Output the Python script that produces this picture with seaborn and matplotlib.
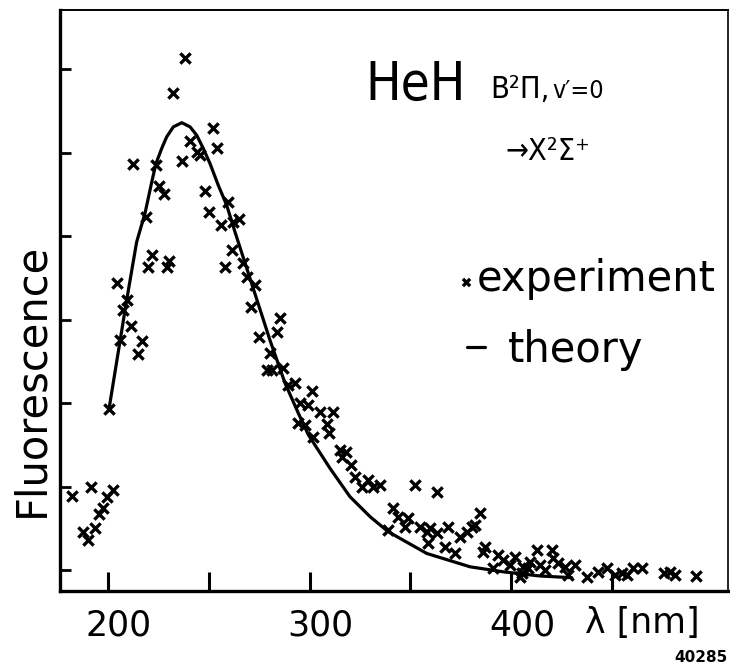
import matplotlib
matplotlib.use("Agg")
import matplotlib.pyplot as plt
import matplotlib.transforms as mtransforms
import seaborn as sns

# experiment points (wavelength in nm, fluorescence in tick units)
exp_nm = [182.0, 191.4, 202.6, 199.4, 197.4, 195.7, 193.6, 187.7, 190.2,
          200.6, 206.0, 211.4, 217.0, 214.7, 207.3, 209.3, 204.3, 221.7, 220.0,
          230.4, 229.1, 218.8, 225.4, 227.8, 212.5, 223.7, 236.7, 232.1, 238.2,
          252.2, 240.7, 253.9, 244.0, 245.6, 248.1, 259.7, 250.2, 265.0, 262.2,
          256.1, 261.4, 258.0, 267.1, 268.8, 272.9, 270.8, 285.3, 283.7, 274.9,
          280.4, 278.7, 281.2, 287.0, 289.4, 292.8, 301.0, 295.2, 299.4, 305.2,
          311.8, 294.4, 297.7, 308.5, 309.8, 301.8,
          315.1, 318.1, 315.9, 320.4, 322.5, 325.8, 329.1, 331.6, 334.9, 352.3,
          363.0, 341.5, 344.0, 349.0, 339.0, 347.3, 354.8, 358.1, 359.7, 358.9,
          363.0, 368.8, 367.2, 372.1, 374.6, 377.9, 380.4, 382.0, 384.5, 387.0,
          386.2, 393.6, 396.1, 401.9, 391.1, 399.4, 405.2, 408.5, 412.7, 420.1,
          406.0, 409.3, 414.3, 416.8, 420.9, 423.4, 426.7, 431.6, 428.3, 404.4,
          437.5, 443.2, 447.4, 451.5, 454.8, 457.3, 460.6, 464.7, 475.5, 478.8,
          481.3, 491.7]
exp_int = [0.89, 1.00, 0.96, 0.88, 0.75, 0.67, 0.51, 0.46, 0.36,
           1.93, 2.76, 2.92, 2.75, 2.59, 3.12, 3.24, 3.44, 3.78, 3.63,
           3.70, 3.63, 4.23, 4.60, 4.51, 4.86, 4.85, 4.90, 5.72, 6.13,
           5.30, 5.14, 5.06, 5.01, 4.97, 4.54, 4.41, 4.29, 4.21, 4.17,
           4.14, 3.83, 3.63, 3.68, 3.51, 3.41, 3.15, 3.02, 2.85, 2.79,
           2.60, 2.40, 2.40, 2.42, 2.22, 2.24, 2.15, 2.00, 1.98, 1.89,
           1.89, 1.76, 1.74, 1.75, 1.64, 1.60,
           1.44, 1.42, 1.36, 1.26, 1.12, 1.00, 1.08, 1.00, 1.02, 1.02,
           0.94, 0.74, 0.64, 0.62, 0.48, 0.52, 0.52, 0.46, 0.50, 0.32,
           0.44, 0.52, 0.28, 0.21, 0.40, 0.46, 0.52, 0.54, 0.69, 0.28,
           0.22, 0.18, 0.12, 0.16, 0.02, 0.06, -0.04, 0.02, 0.24, 0.24,
           0.04, 0.10, 0.06, 0.00, 0.14, 0.08, 0.04, 0.06, -0.06, -0.08,
           -0.08, -0.02, 0.02, -0.06, -0.04, -0.06, 0.02, 0.02, -0.04, -0.02,
           -0.06, -0.07]

# theory curve
theory_nm = [200.5, 209.3, 214.2, 218.4, 221.7, 223.8, 226.6, 229.1, 232.4,
             236.6, 240.7, 244.0, 247.3, 250.6, 254.7, 258.9, 263.0, 272.9,
             280.4, 287.8, 294.4, 299.4, 310.1, 320.0, 330.0, 339.0, 358.1,
             379.6, 396.1, 414.3, 430.0]
theory_int = [1.93, 3.24, 3.93, 4.28, 4.65, 4.87, 5.05, 5.19, 5.31,
              5.36, 5.31, 5.21, 5.05, 4.87, 4.61, 4.37, 4.05, 3.31,
              2.75, 2.24, 1.88, 1.62, 1.22, 0.88, 0.64, 0.46, 0.20,
              0.04, -0.02, -0.07, -0.09]

xticks = [200, 250, 300, 350, 400, 450]
xtick_labels = ["200", "", "300", "", "400", ""]
yticks = [0, 1, 2, 3, 4, 5, 6]

sns.set_style("ticks")
plt.rcParams["font.family"] = ["DejaVu Sans"]
plt.rcParams["text.color"] = "black"
plt.rcParams["axes.labelcolor"] = "black"
plt.rcParams["axes.edgecolor"] = "black"
plt.rcParams["xtick.color"] = "black"
plt.rcParams["ytick.color"] = "black"

fig = plt.figure(figsize=(7.3, 6.67), dpi=100)
ax = fig.add_axes([0.0822, 0.1139, 0.9151, 0.8711])

sns.scatterplot(x=exp_nm, y=exp_int, marker="x", s=55, color="black",
                linewidth=2.4, ax=ax, legend=False, zorder=3)
sns.lineplot(x=theory_nm, y=theory_int, color="black", linewidth=2.3,
             ax=ax, legend=False, sort=False)

ax.set_xlim(176.2, 507.5)
ax.set_ylim(-0.25, 6.71)

ax.set_xticks(xticks)
ax.set_xticklabels(xtick_labels, fontsize=25)
ax.set_yticks(yticks)
ax.set_yticklabels([])
ax.tick_params(axis="x", direction="in", length=14, width=2.2, pad=12.5)
ax.tick_params(axis="y", direction="in", length=8, width=2.0)
offset = mtransforms.ScaledTranslation(0.11, 0, fig.dpi_scale_trans)
for lab in ax.get_xticklabels():
    lab.set_transform(lab.get_transform() + offset)

for side, lw in [("left", 2.4), ("bottom", 2.4), ("top", 1.4), ("right", 1.2)]:
    ax.spines[side].set_linewidth(lw)
    ax.spines[side].set_visible(True)

ax.set_ylabel("Fluorescence", fontsize=30)
ax.yaxis.set_label_coords(-0.011, 0.363)
ax.set_xlabel("λ [nm]", fontsize=25)
ax.xaxis.set_label_coords(0.872, -0.025)

ax.text(327.5, 5.63, "HeH", fontsize=38, fontstretch="condensed",
        va="baseline", ha="left")
ax.text(389.5, 5.66, "B²Π,", fontsize=22, fontstretch="condensed",
        va="baseline", ha="left")
ax.text(420.3, 5.66, "v′=0", fontsize=18, fontstretch="condensed",
        va="baseline", ha="left")
ax.text(396.9, 4.91, "→X²Σ⁺", fontsize=22, fontstretch="condensed",
        va="baseline", ha="left")

leg1 = ax.legend(handles=[ax.collections[0]], labels=["experiment"],
                 loc="lower left", bbox_to_anchor=(0.593, 0.5009),
                 frameon=False, fontsize=30, borderpad=0, borderaxespad=0,
                 handlelength=0.45, handletextpad=0.05, markerscale=0.7,
                 scatteryoffsets=[0.3])
ax.add_artist(leg1)
ax.legend(handles=[ax.lines[0]], labels=["theory"],
          loc="lower left", bbox_to_anchor=(0.6093, 0.3787),
          frameon=False, fontsize=30, borderpad=0, borderaxespad=0,
          handlelength=0.43, handletextpad=0.55)

fig.text(0.996, 0.007, "40285", fontsize=11, fontweight="bold",
         ha="right", va="baseline")

fig.savefig("out.png", dpi=100)
